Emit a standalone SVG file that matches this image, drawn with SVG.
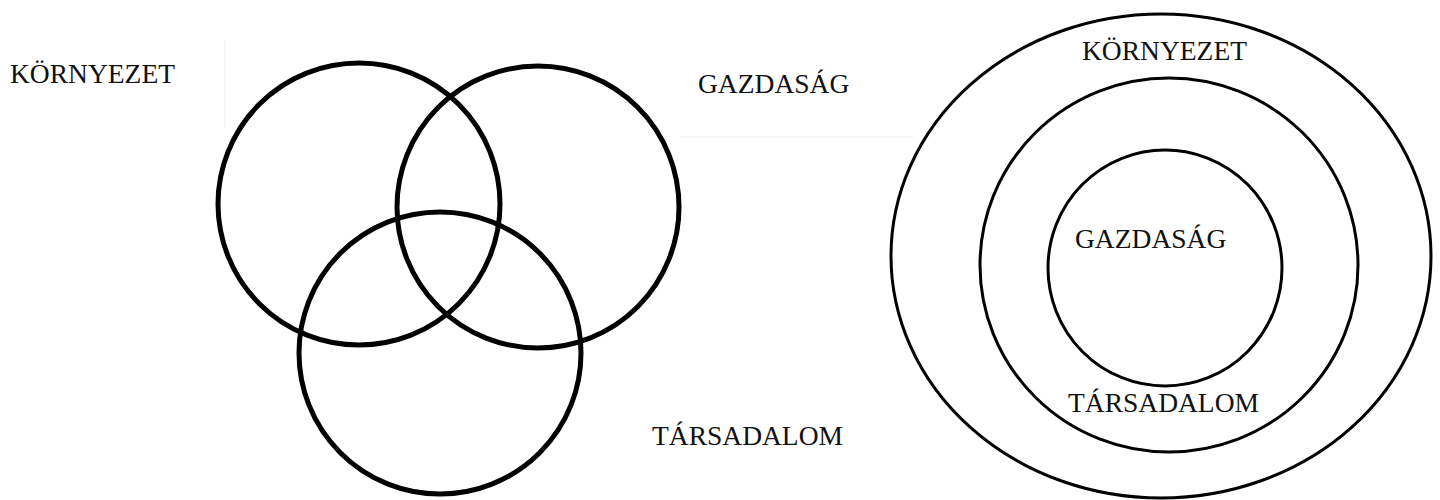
<svg xmlns="http://www.w3.org/2000/svg" width="1440" height="500" viewBox="0 0 1440 500">
<style>
.venn{fill:none;stroke:#000;stroke-width:5}
.ring{fill:none;stroke:#000;stroke-width:3}
.lbl{font-family:"Liberation Serif","Times New Roman",serif;font-size:27.5px;fill:#111}
.faint{stroke:#eeeeee;stroke-width:1;fill:none}
</style>
<rect width="1440" height="500" fill="#fff"/>
<g id="artifacts">
<line class="faint" x1="225" y1="40" x2="225" y2="128"/>
<line class="faint" x1="680" y1="137" x2="913" y2="137"/>
</g>
<g id="venn">
<g id="v-kornyezet"><circle class="venn" cx="359" cy="204" r="141"/><text class="lbl" x="10" y="83">KÖRNYEZET</text></g>
<g id="v-gazdasag"><circle class="venn" cx="538" cy="207" r="141"/><text class="lbl" x="698" y="93">GAZDASÁG</text></g>
<g id="v-tarsadalom"><circle class="venn" cx="440" cy="353" r="141"/><text class="lbl" x="652" y="445">TÁRSADALOM</text></g>
</g>
<g id="nested">
<g id="n-kornyezet"><ellipse class="ring" cx="1161" cy="256" rx="270" ry="242"/><text class="lbl" x="1082" y="60">KÖRNYEZET</text></g>
<g id="n-tarsadalom"><ellipse class="ring" cx="1169" cy="265" rx="189" ry="187"/><text class="lbl" x="1068" y="412">TÁRSADALOM</text></g>
<g id="n-gazdasag"><ellipse class="ring" cx="1165" cy="268" rx="117" ry="118"/><text class="lbl" x="1075" y="248">GAZDASÁG</text></g>
</g>
<g id="connectors"/>
</svg>
